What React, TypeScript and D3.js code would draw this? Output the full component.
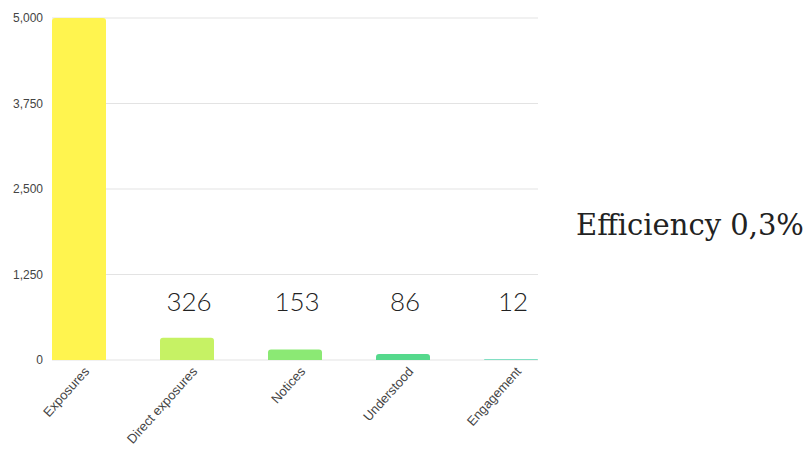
import React from "react";
import * as d3 from "d3";

const categories = ["Exposures", "Direct exposures", "Notices", "Understood", "Engagement"];
const values = [5000, 326, 153, 86, 12];
const valueLabels = ["", "326", "153", "86", "12"];
const barColors = ["#FFF44F", "#C6F264", "#8BE974", "#55D98C", "#5ED9B4"];
const yTicks = [0, 1250, 2500, 3750, 5000];
const efficiencyText = "Efficiency 0,3%";

export default function App() {
  const W = 810, H = 457;
  const x = d3.scaleBand<string>().domain(categories).range([52, 538]).paddingInner(0.5).paddingOuter(0);
  const y = d3.scaleLinear().domain([0, 5000]).range([360, 18]);
  const fmt = d3.format(",");
  const r = 3;
  const barPath = (x0: number, w: number, y0: number, y1: number) => {
    const h = y1 - y0;
    const rr = Math.min(r, h, w / 2);
    return `M${x0},${y1}V${y0 + rr}Q${x0},${y0} ${x0 + rr},${y0}H${x0 + w - rr}Q${x0 + w},${y0} ${x0 + w},${y0 + rr}V${y1}Z`;
  };
  return (
    <svg width={W} height={H} style={{ position: "absolute", left: 0, top: 0, background: "#fff" }}>
      {yTicks.map((t) => (
        <g key={t}>
          <line x1={52} x2={538} y1={y(t)} y2={y(t)} stroke="#e3e3e3" strokeWidth={1} />
          <text x={43} y={y(t)} dy="0.35em" textAnchor="end" fontFamily="'Liberation Sans', Arial, sans-serif" fontSize={12} fill="#444">
            {fmt(t)}
          </text>
        </g>
      ))}
      {categories.map((c, i) => {
        const x0 = x(c)!;
        const w = x.bandwidth();
        const cx = x0 + w / 2;
        return (
          <g key={c}>
            <path d={barPath(x0, w, y(values[i]), y(0))} fill={barColors[i]} />
            {valueLabels[i] && (
              <text x={cx + 2} y={311} textAnchor="middle" fontFamily="Lato, 'Open Sans', sans-serif" fontWeight={300} fontSize={26} fill="#222">
                {valueLabels[i]}
              </text>
            )}
            <text
              transform={`translate(${cx + 11},${372}) rotate(-48)`}
              textAnchor="end"
              fontFamily="'Liberation Sans', Arial, sans-serif"
              fontSize={13}
              fill="#444"
            >
              {c}
            </text>
          </g>
        );
      })}
      <text x={576} y={235} fontFamily="'DejaVu Serif', Georgia, serif" fontSize={29} fill="#222">
        {efficiencyText}
      </text>
    </svg>
  );
}
